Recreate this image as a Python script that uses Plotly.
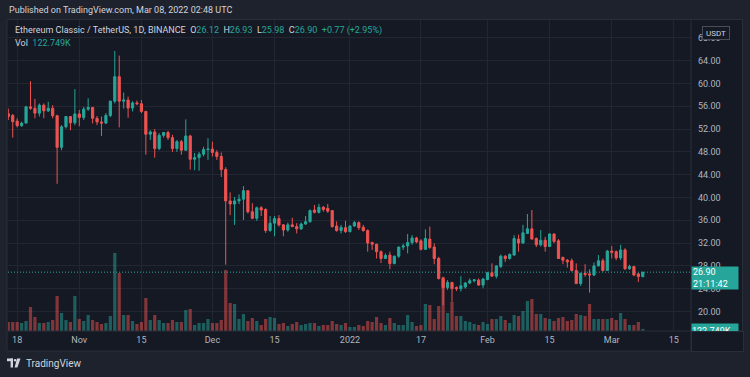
import plotly.graph_objects as go
import pandas as pd

# ---------------- data (ETC/USDT, 1D, Binance) ----------------
START_DATE = "2021-10-16"

opens = [
    54.7, 54.4, 53.4, 52.6, 53.05, 55.9, 55.65, 54.8, 56.2, 55.2,
    55.65, 54.35, 48.8, 52.4, 54.2, 53.1, 54.65, 54.05, 55.5, 55.8,
    53.9, 53.25, 53.05, 54.4, 56.9, 61.2, 56.9, 57.1, 55.7, 56.6,
    56.45, 55.1, 51.1, 51.5, 48.6, 50.9, 51.4, 50.5, 48.6, 49.8,
    48.3, 50.8, 46.7, 47.0, 47.6, 48.4, 48.5, 47.9, 47.2, 44.9,
    39.4, 38.86, 39.4, 39.7, 41.2, 37.5, 36.35, 38.2, 37.9, 34.2,
    35.5, 36.3, 35.2, 34.3, 35.2, 34.9, 34.5, 35.35, 35.75, 37.8,
    37.4, 38.3, 38.1, 37.7, 35.0, 34.2, 34.7, 34.0, 35.0, 35.6,
    34.8, 34.2, 32.1, 31.8, 30.5, 29.3, 29.9, 28.4, 29.7, 31.3,
    31.5, 32.1, 32.9, 32.4, 30.9, 32.7, 31.3, 29.3, 25.8, 24.2,
    25.1, 24.2, 24.0, 24.3, 25.0, 25.4, 25.5, 24.65, 25.6, 26.8,
    26.2, 27.9, 29.7, 29.3, 29.9, 32.7, 32.0, 33.7, 34.5, 32.8,
    31.7, 32.5, 31.4, 33.6, 32.4, 29.5, 29.0, 28.9, 27.2, 24.9,
    26.7, 26.6, 26.4, 28.0, 28.9, 27.2, 30.6, 30.5, 29.4, 30.8,
    27.5, 27.9, 26.6, 26.12]

highs = [
    55.6, 54.65, 53.9, 53.3, 56.1, 60.4, 57.3, 56.5, 56.5, 56.8,
    56.2, 54.5, 52.7, 54.3, 54.3, 59.0, 55.35, 55.9, 57.4, 55.9,
    54.3, 54.2, 54.8, 57.0, 65.7, 64.9, 58.4, 57.7, 56.9, 57.0,
    57.1, 55.2, 51.8, 52.0, 51.3, 51.5, 51.7, 51.0, 50.1, 50.1,
    53.7, 51.0, 47.8, 48.0, 48.9, 50.4, 49.8, 48.3, 47.9, 45.3,
    40.9, 40.1, 40.55, 42.0, 41.3, 39.0, 38.4, 38.5, 38.1, 36.75,
    36.75, 36.9, 35.35, 35.6, 36.45, 35.5, 35.6, 36.75, 37.9, 38.7,
    38.9, 38.5, 38.86, 37.8, 35.8, 35.2, 35.9, 35.1, 35.9, 35.8,
    35.2, 34.4, 32.25, 31.9, 30.7, 30.2, 30.5, 29.8, 31.4, 31.9,
    33.6, 33.4, 33.1, 32.7, 34.4, 34.9, 31.96, 29.6, 26.1, 25.5,
    25.2, 24.4, 26.2, 25.2, 25.8, 25.7, 25.8, 25.9, 26.9, 28.45,
    28.1, 30.0, 29.9, 30.2, 33.4, 33.5, 35.2, 37.1, 37.8, 33.0,
    34.3, 33.1, 33.7, 33.7, 32.7, 29.6, 29.2, 29.3, 28.45, 26.8,
    28.3, 27.4, 28.6, 29.9, 29.3, 30.8, 31.5, 30.7, 31.7, 31.1,
    28.2, 28.0, 26.8, 26.93]

lows = [
    53.6, 50.5, 52.3, 52.4, 53.0, 55.4, 53.9, 54.2, 53.9, 55.0,
    53.9, 42.4, 48.3, 52.1, 51.8, 52.7, 52.5, 53.6, 55.2, 53.0,
    52.7, 50.8, 52.9, 54.1, 56.5, 52.3, 55.6, 54.0, 55.1, 56.2,
    54.8, 47.5, 50.1, 47.0, 48.3, 50.5, 50.1, 48.0, 48.0, 47.5,
    48.2, 44.9, 44.8, 44.7, 47.2, 46.6, 47.2, 46.6, 43.6, 28.2,
    36.9, 35.2, 38.86, 36.05, 37.2, 36.2, 35.9, 36.75, 33.8, 34.0,
    33.2, 34.9, 33.2, 34.0, 34.8, 33.7, 34.3, 35.2, 35.6, 37.2,
    37.2, 37.5, 37.3, 34.7, 34.0, 33.7, 33.8, 33.9, 34.9, 34.3,
    34.0, 30.5, 30.8, 29.3, 28.5, 29.2, 27.4, 28.3, 29.4, 30.8,
    30.2, 31.7, 32.0, 30.7, 30.8, 31.0, 28.3, 25.6, 21.1, 23.8,
    21.7, 23.6, 23.5, 24.0, 24.8, 25.1, 24.5, 24.07, 25.5, 26.1,
    25.8, 27.6, 28.7, 29.1, 29.8, 30.5, 31.9, 33.6, 32.7, 31.3,
    31.4, 30.5, 31.3, 32.0, 29.2, 28.3, 27.7, 27.0, 24.8, 24.5,
    26.1, 23.3, 26.2, 27.9, 27.0, 27.1, 29.3, 29.0, 29.0, 27.3,
    27.3, 26.2, 25.2, 25.98]

closes = [
    54.2, 53.3, 52.6, 53.05, 55.9, 55.65, 54.8, 56.2, 55.2, 55.65,
    54.35, 48.8, 52.4, 54.2, 53.1, 54.65, 54.05, 55.5, 55.8, 53.9,
    53.25, 53.05, 54.4, 56.9, 61.2, 56.9, 57.1, 55.7, 56.6, 56.45,
    55.1, 51.1, 51.5, 48.6, 50.9, 51.4, 50.5, 48.6, 49.8, 48.3,
    50.8, 46.7, 47.0, 47.6, 48.4, 48.5, 47.9, 47.2, 44.9, 39.4,
    38.86, 39.4, 39.7, 41.2, 37.5, 36.35, 38.2, 37.8, 34.2, 35.5,
    36.3, 35.2, 34.3, 35.2, 34.9, 34.5, 35.35, 35.75, 37.7, 37.4,
    38.3, 37.9, 37.6, 34.9, 34.2, 34.75, 34.0, 35.0, 35.6, 34.7,
    34.2, 32.0, 31.8, 30.5, 29.3, 29.85, 28.4, 29.7, 31.3, 31.5,
    32.1, 32.9, 32.2, 30.9, 32.8, 31.25, 29.3, 25.8, 24.2, 25.1,
    24.0, 24.0, 24.5, 25.0, 25.4, 25.55, 24.65, 25.7, 26.8, 26.2,
    28.0, 29.7, 29.3, 30.0, 32.8, 32.0, 33.8, 34.5, 32.7, 31.7,
    32.5, 31.4, 33.6, 32.3, 29.3, 29.0, 28.7, 27.2, 24.9, 26.7,
    26.5, 26.4, 28.0, 28.9, 27.2, 30.6, 30.4, 29.4, 30.8, 27.5,
    27.9, 26.4, 26.13, 26.90]

# volume, thousands of ETC
volumes_k = [
    540, 540, 540, 480, 600, 1440, 840, 480, 480, 540,
    660, 2100, 1080, 660, 540, 2100, 720, 600, 960, 660,
    540, 420, 480, 900, 4680, 3480, 960, 960, 600, 420,
    540, 1980, 660, 960, 660, 480, 480, 660, 540, 540,
    1260, 1320, 360, 480, 480, 720, 480, 480, 660, 3660,
    1680, 1620, 720, 1020, 600,
    780, 600, 360, 720, 840, 780, 420, 480, 300, 420,
    540, 360, 420, 480, 480, 300, 360, 360, 600,
    420, 360, 480, 240, 240, 360, 300, 600, 540, 840,
    480, 360, 780, 480, 360, 360, 960, 540, 300, 360,
    1620, 1560, 720, 1500,
    3240, 1080, 1740, 900, 900, 600, 540, 420, 360, 540, 420,
    720, 720, 900, 660, 480, 960, 900, 1200, 1800, 1920,
    1020, 1020, 780, 720, 600, 780, 840, 600, 660, 1020,
    960, 900, 1620, 720, 720, 720, 720, 780, 660, 1080,
    720, 360, 360, 540, 122.749]

tick_dates = ["2021-10-18", "2021-11-01", "2021-11-15", "2021-12-01", "2021-12-15",
              "2022-01-01", "2022-01-17", "2022-02-01", "2022-02-15", "2022-03-01",
              "2022-03-15"]
tick_texts = ["18", "Nov", "15", "Dec", "15", "2022", "17", "Feb", "15", "Mar", "15"]
price_ticks = [20, 24, 28, 32, 36, 40, 44, 48, 52, 56, 60, 64, 68]

# ---------------- style ----------------
UP = "#26a69a"
DOWN = "#ef5350"
UP_VOL = "rgba(38,166,154,0.5)"
DOWN_VOL = "rgba(239,83,80,0.5)"
PANE = "#151924"
FRAME = "#1e222d"
GRID = "#222632"
BORDER = "#2a2e39"
TXT = "#b2b5be"
FONT = "Roboto"

W, H = 750, 377
PL, PR, PT, PB = 8, 691, 20, 331   # plot area in pixels


def px(X):
    return (X - PL) / (PR - PL)


def py(Y):
    return (PB - Y) / (PB - PT)


dates = pd.date_range(START_DATE, periods=len(closes), freq="D")
day_px = 4.437
x0 = pd.Timestamp(START_DATE) - pd.Timedelta(days=(8.3 - PL) / day_px)
x1 = x0 + pd.Timedelta(days=(PR - PL) / day_px)

px_per_unit = 5.7
y_lo = 20 - (PB - 311.5) / px_per_unit
y_hi = y_lo + (PB - PT) / px_per_unit
vol_per_px = 60.0
vol_max = (PB - PT) * vol_per_px

vol_colors = [UP_VOL if c >= o else DOWN_VOL for o, c in zip(opens, closes)]

fig = go.Figure()
fig.add_trace(go.Bar(x=dates, y=volumes_k, marker=dict(color=vol_colors, line_width=0),
                     yaxis="y2", hoverinfo="skip", showlegend=False))
fig.add_trace(go.Candlestick(
    x=dates, open=opens, high=highs, low=lows, close=closes,
    increasing=dict(line=dict(color=UP, width=1), fillcolor=UP),
    decreasing=dict(line=dict(color=DOWN, width=1), fillcolor=DOWN),
    whiskerwidth=0, showlegend=False, yaxis="y"))

shapes = [
    # pane
    dict(type="rect", xref="paper", yref="paper", x0=px(7), x1=px(742.5), y0=py(351), y1=py(19.5),
         fillcolor=PANE, line=dict(color=BORDER, width=1), layer="below"),
    # price axis separator
    dict(type="line", xref="paper", yref="paper", x0=px(691), x1=px(691), y0=py(351), y1=py(19.5),
         line=dict(color=BORDER, width=1), layer="above"),
    # time axis separator
    dict(type="line", xref="paper", yref="paper", x0=px(7), x1=px(742.5), y0=py(331), y1=py(331),
         line=dict(color=BORDER, width=1), layer="above"),
    # last price line
    dict(type="line", xref="paper", yref="y", x0=0, x1=1, y0=closes[-1], y1=closes[-1],
         line=dict(color=UP, width=1, dash="1px,2px"), layer="above"),
    # TradingView logo pieces
    dict(type="rect", xref="paper", yref="paper", x0=px(7), x1=px(13), y0=py(361.2), y1=py(358.5),
         fillcolor="#d1d4dc", line_width=0),
    dict(type="rect", xref="paper", yref="paper", x0=px(10.6), x1=px(13), y0=py(367.5), y1=py(358.5),
         fillcolor="#d1d4dc", line_width=0),
    dict(type="circle", xref="paper", yref="paper", x0=px(13.8), x1=px(16.4), y0=py(361.6), y1=py(359),
         fillcolor="#d1d4dc", line_width=0),
    dict(type="path", xref="paper", yref="paper",
         path="M {a},{b} L {c},{b} L {d},{e} L {f},{e} Z".format(
             a=px(17.0), c=px(20.5), b=py(358.5), d=px(17.4), f=px(14.6), e=py(367.5)),
         fillcolor="#d1d4dc", line_width=0),
]

hdr_val = "<span style='color:%s'>" % UP
header = ("Ethereum Classic / TetherUS, 1D, BINANCE&nbsp; O" + hdr_val + "26.12</span>&nbsp; H" + hdr_val
          + "26.93</span>&nbsp; L" + hdr_val + "25.98</span>&nbsp; C" + hdr_val + "26.90</span>&nbsp; "
          + hdr_val + "+0.77 (+2.95%)</span>")

annotations = [
    dict(text="Published on TradingView.com, Mar 08, 2022 02:48 UTC", xref="paper", yref="paper",
         x=px(7), y=py(10.5), xanchor="left", yanchor="middle", showarrow=False,
         font=dict(family=FONT, size=9, color="#d1d4dc")),
    dict(text=header, xref="paper", yref="paper", x=px(12.5), y=py(31), xanchor="left", yanchor="middle",
         showarrow=False, font=dict(family=FONT, size=9, color="#d1d4dc")),
    dict(text="Vol&nbsp; " + hdr_val + "122.749K</span>", xref="paper", yref="paper", x=px(12.5), y=py(43),
         xanchor="left", yanchor="middle", showarrow=False, font=dict(family=FONT, size=9, color="#d1d4dc")),
    # USDT currency label
    dict(text="USDT", xref="paper", yref="paper", x=px(715.5), y=py(32.5), xanchor="center",
         yanchor="middle", showarrow=False, font=dict(family=FONT, size=8, color="#d1d4dc"),
         bgcolor=PANE, bordercolor="#4a4d58", borderwidth=1, borderpad=1, width=24, height=10),
    # volume label (clipped by time axis cover below)
    dict(text="122.749K", xref="paper", yref="paper", x=px(691), y=py(323), xanchor="left",
         yanchor="top", showarrow=False, font=dict(family=FONT, size=9, color="#ffffff"),
         bgcolor=UP, borderpad=0, width=46, height=14, align="left"),
    # time-axis / price-axis corner cover
    dict(text=" ", xref="paper", yref="paper", x=px(691), y=py(331), xanchor="left", yanchor="top",
         showarrow=False, bgcolor=PANE, bordercolor=BORDER, borderwidth=1, borderpad=0,
         width=51, height=19),
    # last price label
    dict(text="26.90<br>21:11:42", xref="paper", yref="paper", x=px(691), y=py(266), xanchor="left",
         yanchor="top", showarrow=False, font=dict(family=FONT, size=9, color="#ffffff"),
         bgcolor=UP, borderpad=1, width=44, height=20, align="left"),
    # TradingView wordmark
    dict(text="TradingView", xref="paper", yref="paper", x=px(24), y=py(363), xanchor="left",
         yanchor="middle", showarrow=False, font=dict(family=FONT, size=10, color="#d1d4dc")),
]

fig.update_layout(
    width=W, height=H,
    margin=dict(l=PL, r=W - PR, t=PT, b=H - PB, pad=0),
    paper_bgcolor=FRAME, plot_bgcolor=PANE,
    font=dict(family=FONT, color=TXT, size=9),
    showlegend=False, bargap=0.28, hovermode=False,
    xaxis=dict(type="date", range=[x0, x1], tickmode="array", tickvals=tick_dates, ticktext=tick_texts,
               showgrid=True, gridcolor=GRID, gridwidth=1, zeroline=False, showline=False, ticks="",
               tickfont=dict(family=FONT, size=9, color=TXT), ticklabelstandoff=2,
               rangeslider=dict(visible=False), fixedrange=True),
    yaxis=dict(side="right", range=[y_lo, y_hi], tickmode="array", tickvals=price_ticks,
               ticktext=["%.2f" % v for v in price_ticks], showgrid=True, gridcolor=GRID, gridwidth=1,
               zeroline=False, showline=False, ticks="", ticklabelstandoff=6,
               tickfont=dict(family=FONT, size=9, color=TXT), fixedrange=True),
    yaxis2=dict(overlaying="y", range=[0, vol_max], visible=False, fixedrange=True),
    shapes=shapes, annotations=annotations,
)

fig.write_html("out.html", config={"displayModeBar": False, "staticPlot": True},
               post_script="document.body.style.margin='0';document.body.style.background='%s';" % FRAME)
